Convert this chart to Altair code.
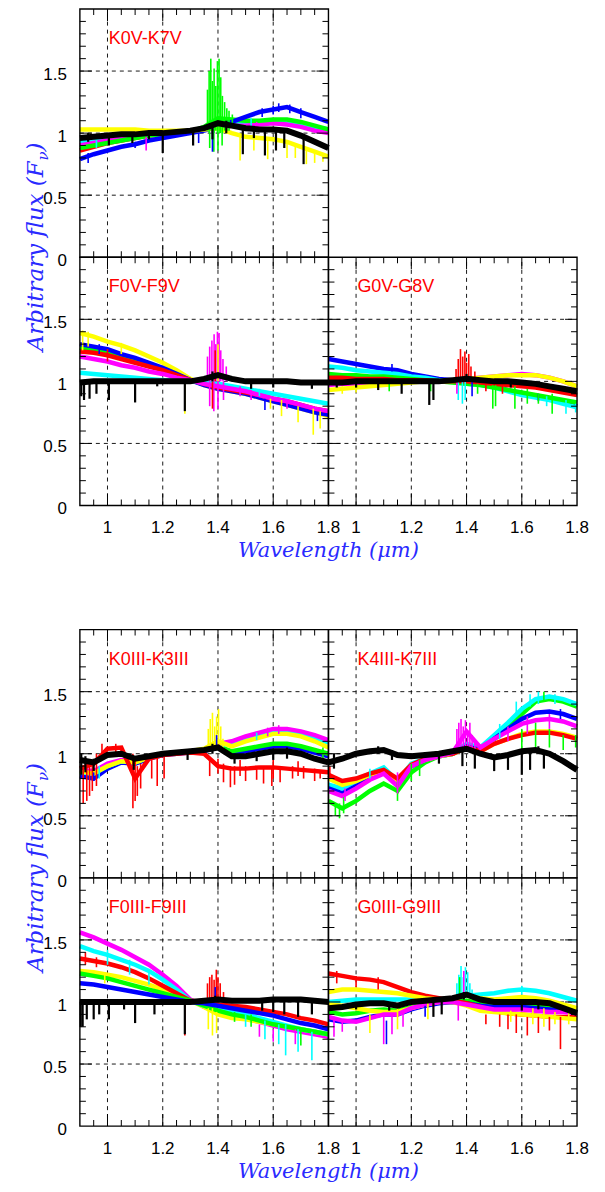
import altair as alt
import pandas as pd

# ---------------- data ----------------
WL = [0.90, 0.95, 1.00, 1.05, 1.10, 1.15, 1.20, 1.25, 1.30, 1.35,
      1.40, 1.45, 1.50, 1.55, 1.60, 1.65, 1.70, 1.75, 1.80]

PANEL_NAMES = ["K0V-K7V", "F0V-F9V", "G0V-G8V", "K0III-K3III",
               "K4III-K7III", "F0III-F9III", "G0III-G9III"]

# K0V-K7V
K0V_BLACK = [0.96, 0.97, 0.98, 0.99, 0.99, 1.00, 1.00, 1.01, 1.02, 1.04, 1.08, 1.06, 1.04, 1.03, 1.03, 1.02, 0.98, 0.93, 0.88]
K0V_RED = [0.86, 0.89, 0.92, 0.94, 0.96, 0.98, 0.99, 1.00, 1.01, 1.03, 1.05, 1.06, 1.07, 1.08, 1.09, 1.08, 1.06, 1.03, 1.01]
K0V_CYAN = [0.93, 0.95, 0.96, 0.98, 0.99, 1.00, 1.01, 1.01, 1.02, 1.03, 1.05, 1.07, 1.08, 1.09, 1.10, 1.09, 1.07, 1.05, 1.03]
K0V_MAGENTA = [0.90, 0.92, 0.94, 0.96, 0.97, 0.99, 1.00, 1.01, 1.02, 1.03, 1.05, 1.06, 1.06, 1.07, 1.08, 1.07, 1.05, 1.02, 1.00]
K0V_GREEN = [0.88, 0.90, 0.92, 0.94, 0.96, 0.98, 0.99, 1.00, 1.01, 1.05, 1.12, 1.11, 1.10, 1.10, 1.11, 1.11, 1.09, 1.06, 1.03]
K0V_BLUE = [0.79, 0.83, 0.86, 0.89, 0.91, 0.94, 0.96, 0.98, 1.00, 1.02, 1.05, 1.09, 1.13, 1.17, 1.19, 1.21, 1.17, 1.13, 1.09]
K0V_YELLOW = [1.03, 1.03, 1.03, 1.03, 1.03, 1.02, 1.02, 1.02, 1.02, 1.03, 1.04, 1.00, 0.97, 0.96, 0.95, 0.93, 0.89, 0.85, 0.81]
K0V_SPIKES = [
    ("g", 1.362, 1.02, 1.35), ("g", 1.368, 1.00, 1.50), ("g", 1.374, 1.02, 1.60), ("g", 1.380, 1.00, 1.42),
    ("g", 1.386, 1.00, 1.52), ("g", 1.392, 1.02, 1.38), ("g", 1.398, 1.00, 1.58), ("g", 1.404, 1.00, 1.60),
    ("g", 1.410, 1.00, 1.45), ("g", 1.416, 1.00, 1.30), ("g", 1.424, 1.02, 1.25), ("g", 1.432, 1.02, 1.20),
    ("g", 1.440, 1.02, 1.18), ("g", 1.452, 1.04, 1.15), ("g", 1.370, 0.88, 1.00), ("g", 1.385, 0.85, 1.00),
    ("g", 1.400, 0.86, 1.00), ("g", 1.415, 0.90, 1.00), ("b", 1.380, 0.85, 1.05), ("b", 1.100, 0.88, 0.93),
    ("b", 1.330, 0.92, 1.00), ("m", 1.140, 0.86, 0.97), ("y", 1.480, 0.78, 0.97), ("y", 1.580, 0.79, 0.95),
    ("y", 1.650, 0.80, 0.93), ("y", 1.720, 0.75, 0.88), ("y", 1.780, 0.77, 0.83), ("b", 1.620, 1.17, 1.24),
    ("b", 1.660, 1.16, 1.23), ("b", 1.560, 1.13, 1.20), ("b", 1.600, 1.15, 1.22), ("b", 1.700, 1.12, 1.20),
    ("c", 1.520, 1.05, 1.12), ("m", 1.540, 1.02, 1.09), ("b", 0.930, 0.76, 0.84), ("c", 0.960, 0.88, 0.96),
    ("y", 1.530, 0.86, 0.96), ("y", 1.680, 0.80, 0.92), ("y", 1.750, 0.76, 0.86),
    ("k", 1.005, 0.90, 0.99), ("k", 1.090, 0.92, 1.00), ("k", 1.200, 0.84, 1.00), ("k", 1.310, 0.90, 1.02),
    ("k", 1.380, 0.95, 1.05), ("k", 1.490, 0.83, 1.04), ("k", 1.570, 0.82, 1.03), ("k", 1.610, 0.86, 1.03),
    ("k", 1.640, 0.88, 1.02), ("k", 1.710, 0.75, 0.97), ("k", 0.930, 0.93, 1.00), ("k", 1.150, 0.95, 1.01),
    ("k", 1.430, 1.00, 1.10), ("k", 1.530, 0.96, 1.05),
]

# F0V-F9V
F0V_BLACK = [0.99, 1.00, 1.00, 1.00, 1.00, 1.00, 1.00, 1.00, 1.00, 1.02, 1.05, 1.02, 1.00, 1.00, 1.00, 1.00, 0.99, 0.99, 0.99]
F0V_YELLOW = [1.39, 1.36, 1.32, 1.29, 1.25, 1.20, 1.15, 1.09, 1.02, 0.97, 0.94, 0.92, 0.90, 0.87, 0.84, 0.81, 0.78, 0.75, 0.72]
F0V_GREEN = [1.27, 1.25, 1.23, 1.20, 1.17, 1.13, 1.10, 1.05, 1.01, 0.98, 0.95, 0.93, 0.91, 0.88, 0.85, 0.82, 0.79, 0.77, 0.74]
F0V_BLUE = [1.30, 1.28, 1.26, 1.22, 1.19, 1.15, 1.11, 1.06, 1.01, 0.97, 0.94, 0.92, 0.90, 0.87, 0.84, 0.81, 0.78, 0.75, 0.73]
F0V_RED = [1.24, 1.23, 1.21, 1.18, 1.15, 1.12, 1.09, 1.05, 1.01, 0.98, 0.95, 0.93, 0.91, 0.89, 0.86, 0.84, 0.81, 0.78, 0.76]
F0V_CYAN = [1.07, 1.06, 1.05, 1.04, 1.03, 1.02, 1.01, 1.01, 1.00, 0.99, 0.98, 0.96, 0.94, 0.92, 0.90, 0.88, 0.86, 0.84, 0.82]
F0V_MAGENTA = [1.20, 1.18, 1.16, 1.13, 1.11, 1.08, 1.06, 1.03, 1.01, 0.98, 0.96, 0.94, 0.92, 0.89, 0.86, 0.84, 0.81, 0.78, 0.76]
F0V_SPIKES = [
    ("m", 1.362, 1.00, 1.20), ("m", 1.370, 1.00, 1.28), ("m", 1.378, 1.00, 1.33), ("m", 1.386, 1.00, 1.38),
    ("m", 1.392, 1.00, 1.30), ("m", 1.398, 1.00, 1.40), ("m", 1.404, 1.00, 1.39), ("m", 1.410, 1.00, 1.25),
    ("m", 1.418, 1.00, 1.18), ("m", 1.430, 1.00, 1.12), ("r", 1.390, 1.00, 1.25), ("y", 1.400, 1.00, 1.30),
    ("m", 1.370, 0.80, 1.00), ("m", 1.385, 0.76, 1.00), ("m", 1.400, 0.78, 1.00), ("m", 1.420, 0.85, 1.00),
    ("r", 1.380, 0.78, 1.00), ("y", 1.280, 0.74, 0.99), ("y", 1.630, 0.72, 0.85), ("y", 1.690, 0.67, 0.80),
    ("y", 1.745, 0.57, 0.78), ("y", 1.770, 0.62, 0.76), ("y", 1.590, 0.78, 0.86), ("b", 1.570, 0.77, 0.86),
    ("b", 1.760, 0.68, 0.74), ("c", 1.200, 0.98, 1.03), ("y", 0.910, 1.25, 1.41), ("y", 0.930, 1.28, 1.40),
    ("m", 1.480, 0.88, 0.96), ("m", 1.520, 0.85, 0.93), ("m", 1.650, 0.78, 0.86), ("c", 1.550, 0.88, 0.94),
    ("r", 1.000, 1.16, 1.26), ("b", 0.970, 1.22, 1.30), ("y", 1.050, 1.22, 1.31),
    ("k", 0.905, 0.88, 1.00), ("k", 0.915, 0.85, 1.00), ("k", 0.935, 0.86, 1.00), ("k", 0.960, 0.90, 1.00),
    ("k", 1.005, 0.85, 1.00), ("k", 1.100, 0.83, 1.00), ("k", 1.280, 0.76, 1.00), ("k", 1.520, 0.94, 1.00),
    ("k", 1.600, 0.95, 1.00), ("k", 1.740, 0.94, 1.00), ("k", 1.180, 0.96, 1.00), ("k", 1.380, 1.00, 1.08),
]

# G0V-G8V
G0V_BLACK = [0.99, 0.99, 1.00, 1.00, 1.00, 1.00, 1.00, 1.00, 1.00, 1.01, 1.02, 1.01, 1.00, 1.00, 0.99, 0.98, 0.96, 0.94, 0.92]
G0V_BLUE = [1.18, 1.16, 1.14, 1.12, 1.10, 1.09, 1.06, 1.04, 1.02, 1.01, 1.00, 0.98, 0.96, 0.93, 0.90, 0.88, 0.86, 0.83, 0.80]
G0V_CYAN = [1.12, 1.11, 1.09, 1.08, 1.07, 1.06, 1.04, 1.03, 1.01, 1.00, 0.98, 0.97, 0.95, 0.92, 0.89, 0.87, 0.85, 0.82, 0.79]
G0V_GREEN = [1.06, 1.05, 1.05, 1.04, 1.04, 1.03, 1.02, 1.01, 1.00, 0.99, 0.98, 0.97, 0.95, 0.93, 0.91, 0.89, 0.87, 0.85, 0.83]
G0V_RED = [1.03, 1.03, 1.02, 1.02, 1.02, 1.01, 1.01, 1.01, 1.00, 1.00, 1.00, 0.99, 0.98, 0.97, 0.96, 0.95, 0.93, 0.91, 0.89]
G0V_MAGENTA = [0.97, 0.98, 0.98, 0.99, 0.99, 1.00, 1.00, 1.00, 1.00, 1.01, 1.02, 1.03, 1.04, 1.05, 1.06, 1.05, 1.03, 1.00, 0.96]
G0V_YELLOW = [0.93, 0.94, 0.95, 0.96, 0.97, 0.98, 0.99, 1.00, 1.00, 1.01, 1.02, 1.03, 1.04, 1.05, 1.05, 1.05, 1.03, 1.00, 0.96]
G0V_SPIKES = [
    ("r", 1.362, 1.02, 1.10), ("r", 1.370, 1.02, 1.18), ("r", 1.378, 1.02, 1.26), ("r", 1.386, 1.02, 1.20),
    ("r", 1.394, 1.02, 1.24), ("r", 1.400, 1.02, 1.15), ("r", 1.408, 1.02, 1.22), ("r", 1.416, 1.02, 1.12),
    ("r", 1.430, 1.02, 1.08), ("c", 1.370, 0.85, 1.00), ("c", 1.385, 0.82, 1.00), ("c", 1.395, 0.85, 1.00),
    ("m", 1.365, 0.90, 1.00), ("b", 1.420, 0.88, 1.00), ("g", 1.120, 0.92, 1.00), ("g", 1.495, 0.78, 0.97),
    ("g", 1.505, 0.80, 0.97), ("g", 1.575, 0.78, 0.96), ("g", 1.620, 0.82, 0.94), ("g", 1.710, 0.74, 0.90),
    ("g", 1.270, 0.92, 0.99), ("g", 1.440, 0.90, 0.98), ("c", 1.760, 0.74, 0.85), ("c", 1.795, 0.75, 0.82),
    ("r", 1.470, 0.92, 1.00), ("r", 1.530, 0.90, 0.98), ("y", 0.950, 0.90, 0.96), ("b", 1.130, 1.08, 1.14),
    ("b", 1.660, 0.84, 0.90), ("c", 1.690, 0.80, 0.88), ("g", 1.660, 0.82, 0.90), ("y", 1.000, 0.91, 0.96),
    ("k", 1.080, 0.93, 1.00), ("k", 1.165, 0.90, 1.00), ("k", 1.265, 0.81, 1.00), ("k", 1.280, 0.85, 1.00),
    ("k", 1.000, 0.95, 1.00), ("k", 0.930, 0.95, 1.00), ("k", 1.400, 1.00, 1.06), ("k", 1.560, 0.95, 1.01),
]

# K0III-K3III
K0III_BLACK = [0.95, 0.93, 0.99, 1.00, 0.96, 0.98, 1.00, 1.01, 1.02, 1.03, 1.05, 0.98, 0.98, 1.00, 1.02, 1.02, 1.00, 0.96, 0.93]
K0III_BLUE = [0.82, 0.80, 0.88, 0.93, 0.92, 0.96, 0.99, 1.00, 1.01, 1.02, 1.06, 1.00, 1.02, 1.04, 1.06, 1.06, 1.04, 1.01, 0.98]
K0III_GREEN = [0.86, 0.85, 0.90, 0.94, 0.93, 0.97, 1.00, 1.01, 1.02, 1.03, 1.06, 1.02, 1.04, 1.06, 1.08, 1.08, 1.06, 1.03, 1.00]
K0III_CYAN = [0.85, 0.84, 0.90, 0.94, 0.93, 0.97, 1.00, 1.01, 1.02, 1.03, 1.07, 1.08, 1.12, 1.15, 1.18, 1.18, 1.16, 1.13, 1.09]
K0III_MAGENTA = [0.87, 0.86, 0.92, 0.95, 0.94, 0.97, 1.00, 1.01, 1.02, 1.03, 1.08, 1.10, 1.14, 1.17, 1.20, 1.20, 1.18, 1.15, 1.11]
K0III_YELLOW = [0.86, 0.84, 0.90, 0.94, 0.93, 0.97, 1.00, 1.01, 1.02, 1.04, 1.10, 1.06, 1.10, 1.13, 1.16, 1.16, 1.14, 1.10, 1.05]
K0III_RED = [0.88, 0.92, 1.04, 1.05, 0.80, 0.96, 0.99, 1.00, 1.01, 1.00, 0.90, 0.88, 0.88, 0.89, 0.89, 0.88, 0.87, 0.86, 0.85]
K0III_SPIKES = [
    ("y", 1.365, 1.03, 1.20), ("y", 1.372, 1.03, 1.28), ("y", 1.380, 1.03, 1.33), ("y", 1.388, 1.03, 1.22),
    ("y", 1.395, 1.03, 1.30), ("y", 1.402, 1.03, 1.36), ("y", 1.410, 1.03, 1.22), ("y", 1.418, 1.03, 1.12),
    ("b", 1.395, 1.03, 1.15), ("r", 0.912, 0.60, 0.90), ("r", 0.925, 0.62, 0.92), ("r", 0.935, 0.66, 0.90),
    ("r", 0.945, 0.70, 0.95), ("r", 0.960, 0.74, 1.00), ("r", 1.092, 0.56, 1.00), ("r", 1.100, 0.62, 0.95),
    ("r", 1.108, 0.66, 0.90), ("r", 1.120, 0.72, 0.92), ("r", 1.160, 0.80, 0.96), ("r", 1.180, 0.74, 0.98),
    ("r", 1.205, 0.80, 1.00), ("r", 1.370, 0.82, 0.95), ("r", 1.420, 0.77, 0.92), ("r", 1.445, 0.73, 0.90),
    ("r", 1.460, 0.75, 0.90), ("r", 1.500, 0.78, 0.90), ("r", 1.540, 0.79, 0.90), ("r", 1.565, 0.76, 0.90),
    ("r", 1.595, 0.74, 0.90), ("r", 1.625, 0.77, 0.90), ("r", 1.670, 0.80, 0.90), ("r", 1.710, 0.80, 0.90),
    ("r", 1.750, 0.78, 0.88), ("r", 1.770, 0.80, 0.86), ("r", 0.980, 1.00, 1.08), ("r", 1.030, 1.00, 1.08),
    ("r", 1.480, 0.82, 0.95), ("r", 1.600, 0.80, 0.95), ("r", 1.690, 0.82, 0.94), ("r", 1.400, 0.84, 0.96),
    ("b", 0.950, 0.78, 0.85), ("c", 0.970, 0.80, 0.90), ("g", 1.780, 0.95, 1.05), ("m", 1.620, 1.16, 1.23),
    ("m", 1.580, 1.14, 1.21), ("c", 1.540, 1.11, 1.17),
    ("k", 0.905, 0.83, 1.00), ("k", 0.920, 0.85, 0.98), ("k", 0.950, 0.86, 0.96), ("k", 1.095, 0.87, 0.98),
    ("k", 1.290, 0.95, 1.03), ("k", 1.460, 0.92, 1.00), ("k", 1.600, 0.95, 1.03), ("k", 1.380, 1.00, 1.08),
    ("k", 1.650, 0.96, 1.05), ("k", 1.540, 0.94, 1.01),
]

# K4III-K7III
K4III_BLACK = [0.93, 0.96, 1.00, 1.02, 1.03, 0.99, 0.98, 0.99, 1.00, 1.02, 1.04, 1.00, 0.97, 0.99, 1.02, 1.03, 1.00, 0.94, 0.87]
K4III_GREEN = [0.62, 0.56, 0.62, 0.70, 0.76, 0.70, 0.85, 0.93, 0.98, 1.00, 1.05, 1.02, 1.12, 1.22, 1.32, 1.42, 1.44, 1.42, 1.38]
K4III_CYAN = [0.75, 0.72, 0.78, 0.84, 0.89, 0.78, 0.92, 0.96, 0.99, 1.01, 1.08, 1.05, 1.15, 1.25, 1.36, 1.44, 1.46, 1.44, 1.40]
K4III_BLUE = [0.72, 0.68, 0.74, 0.80, 0.85, 0.76, 0.90, 0.95, 0.98, 1.00, 1.06, 1.03, 1.12, 1.20, 1.28, 1.33, 1.34, 1.32, 1.28]
K4III_YELLOW = [0.80, 0.75, 0.78, 0.83, 0.86, 0.78, 0.91, 0.95, 0.98, 1.00, 1.05, 1.02, 1.08, 1.12, 1.16, 1.18, 1.18, 1.16, 1.13]
K4III_RED = [0.83, 0.78, 0.80, 0.84, 0.87, 0.80, 0.91, 0.96, 0.99, 1.00, 1.05, 1.02, 1.08, 1.12, 1.15, 1.17, 1.17, 1.15, 1.12]
K4III_MAGENTA = [0.70, 0.66, 0.72, 0.79, 0.84, 0.74, 0.90, 0.95, 0.98, 1.01, 1.18, 1.05, 1.12, 1.18, 1.24, 1.27, 1.28, 1.26, 1.22]
K4III_SPIKES = [
    ("m", 1.365, 1.02, 1.20), ("m", 1.372, 1.02, 1.25), ("m", 1.380, 1.02, 1.28), ("m", 1.388, 1.02, 1.22),
    ("m", 1.396, 1.02, 1.27), ("m", 1.404, 1.02, 1.18), ("m", 1.412, 1.02, 1.25), ("m", 1.420, 1.02, 1.15),
    ("m", 1.430, 1.02, 1.10), ("g", 0.925, 0.50, 0.60), ("g", 0.940, 0.48, 0.60), ("g", 0.955, 0.52, 0.65),
    ("g", 1.150, 0.62, 0.78), ("g", 1.200, 0.78, 0.92), ("g", 1.230, 0.82, 0.95), ("g", 1.600, 1.00, 1.20),
    ("g", 1.650, 1.02, 1.25), ("g", 1.700, 1.05, 1.20), ("g", 1.750, 1.03, 1.15), ("g", 1.795, 1.05, 1.15),
    ("c", 1.580, 1.30, 1.42), ("c", 1.630, 1.38, 1.48), ("c", 1.660, 1.40, 1.50), ("g", 1.680, 1.42, 1.50),
    ("c", 1.720, 1.40, 1.48), ("m", 1.150, 0.68, 0.85), ("r", 0.905, 0.80, 0.90), ("m", 1.550, 1.10, 1.22),
    ("m", 1.620, 1.16, 1.30), ("m", 1.700, 1.20, 1.32), ("b", 1.740, 1.28, 1.36), ("c", 1.520, 1.12, 1.24),
    ("m", 0.960, 0.62, 0.72), ("c", 1.050, 0.80, 0.88),
    ("k", 1.300, 0.92, 1.00), ("k", 1.385, 0.90, 1.04), ("k", 1.430, 0.88, 1.00), ("k", 1.500, 0.86, 0.98),
    ("k", 1.550, 0.87, 1.00), ("k", 1.600, 0.83, 1.02), ("k", 1.630, 0.87, 1.03), ("k", 1.680, 0.88, 1.00),
    ("k", 0.920, 0.88, 1.00), ("k", 1.130, 0.95, 1.03), ("k", 1.080, 1.00, 1.06), ("k", 1.660, 1.00, 1.06),
]

# F0III-F9III
F0III_BLACK = [1.00, 1.00, 1.00, 1.00, 1.00, 1.00, 1.00, 1.00, 1.00, 1.01, 1.02, 1.01, 1.01, 1.01, 1.02, 1.02, 1.02, 1.01, 1.00]
F0III_MAGENTA = [1.56, 1.52, 1.47, 1.42, 1.36, 1.30, 1.22, 1.13, 1.02, 0.96, 0.93, 0.90, 0.87, 0.84, 0.81, 0.78, 0.76, 0.74, 0.72]
F0III_YELLOW = [1.25, 1.24, 1.22, 1.20, 1.17, 1.14, 1.10, 1.05, 1.01, 0.96, 0.90, 0.87, 0.86, 0.84, 0.82, 0.80, 0.78, 0.76, 0.74]
F0III_CYAN = [1.45, 1.41, 1.38, 1.34, 1.30, 1.25, 1.18, 1.10, 1.01, 0.97, 0.95, 0.93, 0.90, 0.87, 0.84, 0.81, 0.78, 0.76, 0.74]
F0III_RED = [1.35, 1.33, 1.31, 1.28, 1.24, 1.19, 1.13, 1.07, 1.01, 1.00, 0.98, 0.97, 0.96, 0.94, 0.92, 0.90, 0.87, 0.85, 0.82]
F0III_GREEN = [1.23, 1.21, 1.19, 1.16, 1.13, 1.10, 1.07, 1.04, 1.01, 0.97, 0.93, 0.90, 0.88, 0.85, 0.82, 0.80, 0.78, 0.76, 0.74]
F0III_BLUE = [1.15, 1.14, 1.12, 1.10, 1.08, 1.06, 1.04, 1.02, 1.00, 0.99, 0.97, 0.95, 0.93, 0.91, 0.89, 0.86, 0.83, 0.81, 0.78]
F0III_SPIKES = [
    ("r", 1.362, 1.00, 1.15), ("r", 1.370, 1.00, 1.20), ("r", 1.378, 1.00, 1.22), ("r", 1.386, 1.00, 1.18),
    ("r", 1.394, 1.00, 1.26), ("r", 1.400, 1.00, 1.20), ("r", 1.408, 1.00, 1.15), ("r", 1.420, 1.00, 1.08),
    ("b", 1.390, 1.00, 1.12), ("y", 1.365, 0.78, 0.95), ("y", 1.380, 0.73, 0.95), ("y", 1.395, 0.75, 0.92),
    ("m", 1.550, 0.72, 0.82), ("m", 1.600, 0.68, 0.78), ("c", 1.570, 0.70, 0.85), ("c", 1.645, 0.57, 0.82),
    ("c", 1.690, 0.60, 0.78), ("c", 1.740, 0.53, 0.76), ("c", 1.620, 0.66, 0.82), ("g", 1.700, 0.65, 0.78),
    ("g", 1.520, 0.80, 0.90), ("r", 1.280, 0.73, 0.98), ("r", 0.920, 1.30, 1.40), ("r", 0.960, 1.28, 1.36),
    ("c", 1.000, 1.30, 1.42), ("c", 1.080, 1.22, 1.34), ("c", 1.150, 1.14, 1.26), ("y", 0.990, 1.15, 1.24),
    ("g", 1.460, 0.84, 0.92), ("c", 1.500, 0.80, 0.90), ("m", 1.680, 0.66, 0.78),
    ("k", 0.903, 0.80, 1.00), ("k", 0.910, 0.80, 1.00), ("k", 0.925, 0.86, 1.00), ("k", 0.950, 0.86, 1.00),
    ("k", 0.970, 0.90, 1.00), ("k", 1.005, 0.86, 1.00), ("k", 1.100, 0.83, 1.00), ("k", 1.170, 0.90, 1.00),
    ("k", 1.280, 0.74, 1.00), ("k", 1.560, 0.93, 1.02), ("k", 1.600, 0.92, 1.02), ("k", 1.640, 0.90, 1.02),
    ("k", 1.690, 0.88, 1.02), ("k", 1.740, 0.90, 1.00), ("k", 1.060, 0.94, 1.00), ("k", 1.390, 1.00, 1.05),
]

# G0III-G9III
G0III_BLACK = [0.95, 0.96, 0.98, 0.99, 0.99, 0.97, 1.00, 1.01, 1.02, 1.03, 1.06, 1.02, 1.00, 1.00, 1.00, 1.00, 0.99, 0.95, 0.91]
G0III_GREEN = [0.92, 0.90, 0.91, 0.93, 0.94, 0.93, 0.96, 0.98, 1.00, 1.00, 1.01, 0.99, 0.98, 0.98, 0.98, 0.97, 0.96, 0.95, 0.94]
G0III_BLUE = [0.86, 0.84, 0.85, 0.88, 0.90, 0.90, 0.94, 0.97, 0.99, 1.00, 0.99, 0.97, 0.96, 0.96, 0.96, 0.95, 0.94, 0.93, 0.92]
G0III_CYAN = [1.00, 1.01, 1.02, 1.02, 1.02, 1.02, 1.02, 1.02, 1.02, 1.03, 1.05, 1.06, 1.07, 1.09, 1.10, 1.09, 1.07, 1.04, 1.01]
G0III_RED = [1.23, 1.21, 1.19, 1.18, 1.16, 1.12, 1.08, 1.05, 1.03, 1.01, 0.99, 0.96, 0.93, 0.91, 0.90, 0.89, 0.88, 0.88, 0.88]
G0III_MAGENTA = [0.88, 0.85, 0.84, 0.87, 0.90, 0.90, 0.95, 0.98, 1.00, 1.00, 0.98, 0.96, 0.94, 0.94, 0.94, 0.93, 0.92, 0.92, 0.91]
G0III_YELLOW = [1.08, 1.10, 1.10, 1.09, 1.08, 1.07, 1.05, 1.03, 1.02, 1.03, 1.05, 1.03, 1.02, 1.03, 1.04, 1.03, 1.01, 0.98, 0.95]
G0III_YELLOW_LOW = [0.98, 0.97, 0.95, 0.93, 0.92, 0.92, 0.95, 0.98, 1.00, 1.00, 0.97, 0.93, 0.92, 0.91, 0.90, 0.89, 0.88, 0.87, 0.86]
G0III_SPIKES = [
    ("c", 1.365, 1.03, 1.15), ("c", 1.372, 1.03, 1.22), ("c", 1.380, 1.03, 1.29), ("c", 1.388, 1.03, 1.20),
    ("c", 1.396, 1.03, 1.28), ("c", 1.404, 1.03, 1.24), ("c", 1.412, 1.03, 1.15), ("c", 1.420, 1.03, 1.10),
    ("m", 1.390, 1.03, 1.25), ("g", 1.375, 1.03, 1.20), ("r", 1.520, 0.80, 0.90), ("r", 1.580, 0.75, 0.90),
    ("r", 1.620, 0.73, 0.88), ("r", 1.660, 0.75, 0.88), ("r", 1.700, 0.77, 0.88), ("r", 1.740, 0.62, 0.88),
    ("r", 1.470, 0.82, 0.90), ("r", 1.550, 0.78, 0.90), ("m", 0.920, 0.72, 0.88), ("m", 0.950, 0.76, 0.86),
    ("m", 1.100, 0.66, 0.90), ("m", 1.130, 0.74, 0.90), ("m", 1.170, 0.80, 0.92), ("m", 1.370, 0.85, 0.98),
    ("b", 1.110, 0.66, 0.85), ("b", 1.250, 0.88, 0.97), ("y", 1.050, 0.75, 0.90), ("y", 1.150, 0.78, 0.95),
    ("y", 1.260, 0.86, 1.00), ("y", 1.640, 0.82, 0.95), ("y", 1.680, 0.80, 0.95), ("y", 1.770, 0.82, 0.95),
    ("r", 0.930, 1.15, 1.25), ("r", 1.000, 1.12, 1.21), ("r", 1.080, 1.10, 1.20), ("c", 1.600, 1.06, 1.13),
    ("y", 1.560, 0.84, 0.93), ("y", 1.720, 0.82, 0.92),
    ("k", 1.280, 0.88, 1.02), ("k", 1.310, 0.90, 1.02), ("k", 1.120, 0.93, 1.00), ("k", 1.600, 0.93, 1.00),
    ("k", 1.390, 1.02, 1.08), ("k", 1.660, 0.94, 1.01), ("k", 1.000, 0.94, 1.00),
]

# series per panel, in drawing order
PANEL_SERIES = {
    "K0V-K7V": [("r", K0V_RED), ("c", K0V_CYAN), ("m", K0V_MAGENTA), ("g", K0V_GREEN), ("b", K0V_BLUE), ("y", K0V_YELLOW)],
    "F0V-F9V": [("y", F0V_YELLOW), ("g", F0V_GREEN), ("b", F0V_BLUE), ("r", F0V_RED), ("c", F0V_CYAN), ("m", F0V_MAGENTA)],
    "G0V-G8V": [("b", G0V_BLUE), ("c", G0V_CYAN), ("g", G0V_GREEN), ("r", G0V_RED), ("m", G0V_MAGENTA), ("y", G0V_YELLOW)],
    "K0III-K3III": [("b", K0III_BLUE), ("g", K0III_GREEN), ("c", K0III_CYAN), ("m", K0III_MAGENTA), ("y", K0III_YELLOW), ("r", K0III_RED)],
    "K4III-K7III": [("g", K4III_GREEN), ("c", K4III_CYAN), ("b", K4III_BLUE), ("y", K4III_YELLOW), ("r", K4III_RED), ("m", K4III_MAGENTA)],
    "F0III-F9III": [("m", F0III_MAGENTA), ("y", F0III_YELLOW), ("c", F0III_CYAN), ("r", F0III_RED), ("g", F0III_GREEN), ("b", F0III_BLUE)],
    "G0III-G9III": [("g", G0III_GREEN), ("b", G0III_BLUE), ("c", G0III_CYAN), ("r", G0III_RED), ("y", G0III_YELLOW_LOW), ("m", G0III_MAGENTA), ("y", G0III_YELLOW)],
}
PANEL_BLACK = {"K0V-K7V": K0V_BLACK, "F0V-F9V": F0V_BLACK, "G0V-G8V": G0V_BLACK, "K0III-K3III": K0III_BLACK,
               "K4III-K7III": K4III_BLACK, "F0III-F9III": F0III_BLACK, "G0III-G9III": G0III_BLACK}
PANEL_SPIKES = {"K0V-K7V": K0V_SPIKES, "F0V-F9V": F0V_SPIKES, "G0V-G8V": G0V_SPIKES, "K0III-K3III": K0III_SPIKES,
                "K4III-K7III": K4III_SPIKES, "F0III-F9III": F0III_SPIKES, "G0III-G9III": G0III_SPIKES}

X_MAJOR = [1.0, 1.2, 1.4, 1.6]
X_MINOR = [0.95, 1.05, 1.1, 1.15, 1.25, 1.3, 1.35, 1.45, 1.5, 1.55, 1.65, 1.7, 1.75]
X_LABEL_VALUES = [1.0, 1.2, 1.4, 1.6, 1.8]
X_LABELS = ["1", "1.2", "1.4", "1.6", "1.8"]
Y_MAJOR = [0.5, 1.0, 1.5]
Y_MINOR = [0.1, 0.2, 0.3, 0.4, 0.6, 0.7, 0.8, 0.9, 1.1, 1.2, 1.3, 1.4, 1.6, 1.7, 1.8, 1.9]
Y_LABEL_VALUES = [0.0, 0.5, 1.0, 1.5]
Y_LABELS = ["0", "0.5", "1", "1.5"]

# ---------------- layout / style ----------------
COLORS = {"b": "#0000ff", "g": "#00ff00", "y": "#ffff00", "c": "#00ffff",
          "m": "#ff00ff", "r": "#ff0000", "k": "#000000"}
PANEL_COL = {"K0V-K7V": 0, "F0V-F9V": 0, "G0V-G8V": 1, "K0III-K3III": 0,
             "K4III-K7III": 1, "F0III-F9III": 0, "G0III-G9III": 1}
PANEL_YOFF = {"K0V-K7V": 7, "F0V-F9V": 5, "G0V-G8V": 5, "K0III-K3III": 2,
              "K4III-K7III": 2, "F0III-F9III": 0, "G0III-G9III": 0}
BOTTOM_PANELS = ["F0V-F9V", "G0V-G8V", "F0III-F9III", "G0III-G9III"]
XW = 0.9   # x span of one panel
YH = 2.0   # y span of one panel
W, H = 498, 1119
TITLE_BLUE = "#2a2aff"
SANS = "Liberation Sans"
SERIF = "DejaVu Serif"

XS = alt.Scale(domain=[0.9, 2.7], nice=False, zero=False)
YS = alt.Scale(domain=[0.0, 9.0], nice=False, zero=False)


def X(f="x"):
    return alt.X(f"{f}:Q", scale=XS, axis=None)


def Y(f="y"):
    return alt.Y(f"{f}:Q", scale=YS, axis=None)


def xo(p):
    return XW * PANEL_COL[p]


# ---------------- tables ----------------
line_rows, black_rows, spike_rows, kspike_rows = [], [], [], []
for pi, p in enumerate(PANEL_NAMES):
    for si, (c, vals) in enumerate(PANEL_SERIES[p]):
        for w, v in zip(WL, vals):
            line_rows.append({"sid": f"{pi}_{si:02d}", "color": COLORS[c], "x": w + xo(p), "y": v + PANEL_YOFF[p]})
    for w, v in zip(WL, PANEL_BLACK[p]):
        black_rows.append({"sid": f"{pi}", "x": w + xo(p), "y": v + PANEL_YOFF[p]})
    for c, w, lo, hi in PANEL_SPIKES[p]:
        row = {"color": COLORS[c], "x": w + xo(p), "y": lo + PANEL_YOFF[p], "y2": hi + PANEL_YOFF[p]}
        (kspike_rows if c == "k" else spike_rows).append(row)
lines = pd.DataFrame(line_rows)
blacks = pd.DataFrame(black_rows)
spikes = pd.DataFrame(spike_rows)
kspikes = pd.DataFrame(kspike_rows)

frames = pd.DataFrame([{"x": 0.9 + xo(p), "x2": 1.8 + xo(p), "y": PANEL_YOFF[p], "y2": PANEL_YOFF[p] + YH}
                       for p in PANEL_NAMES])

vgrid = pd.DataFrame([{"x": g + xo(p), "y": PANEL_YOFF[p], "y2": PANEL_YOFF[p] + YH}
                      for p in PANEL_NAMES for g in X_MAJOR])
hgrid = pd.DataFrame([{"y": g + PANEL_YOFF[p], "x": 0.9 + xo(p), "x2": 1.8 + xo(p)}
                      for p in PANEL_NAMES for g in Y_MAJOR])


def xticks(vals, edge):
    return pd.DataFrame([{"x": v + xo(p), "y": PANEL_YOFF[p] + (YH if edge == "top" else 0)}
                         for p in PANEL_NAMES for v in vals])


def yticks(vals, edge):
    return pd.DataFrame([{"y": v + PANEL_YOFF[p], "x": xo(p) + (1.8 if edge == "right" else 0.9)}
                         for p in PANEL_NAMES for v in vals])


ylab = pd.DataFrame([{"x": 0.9, "y": v + PANEL_YOFF[p], "t": t}
                     for p in PANEL_NAMES if PANEL_COL[p] == 0 for v, t in zip(Y_LABEL_VALUES, Y_LABELS)])
xlab = pd.DataFrame([{"x": v + xo(p), "y": PANEL_YOFF[p], "t": t}
                     for p in BOTTOM_PANELS for v, t in zip(X_LABEL_VALUES, X_LABELS)])
names = pd.DataFrame([{"x": 0.9 + xo(p), "y": PANEL_YOFF[p] + YH, "t": p} for p in PANEL_NAMES])
xtitle = pd.DataFrame([{"x": 1.8, "y": 5.0}, {"x": 1.8, "y": 0.0}])
ytitle = pd.DataFrame([{"x": 0.9, "y": 7.0}, {"x": 0.9, "y": 2.0}])

# ---------------- layers ----------------
layers = []
layers.append(alt.Chart(vgrid).mark_rule(color="black", strokeWidth=0.9, strokeDash=[4, 4])
              .encode(x=X(), y=Y(), y2="y2:Q"))
layers.append(alt.Chart(hgrid).mark_rule(color="black", strokeWidth=0.9, strokeDash=[4, 4])
              .encode(y=Y(), x=X(), x2="x2:Q"))
layers.append(alt.Chart(lines).mark_line(strokeWidth=4.5)
              .encode(x=X(), y=Y(), detail="sid:N", color=alt.Color("color:N", scale=None)))
layers.append(alt.Chart(spikes).mark_rule(strokeWidth=1.6)
              .encode(x=X(), y=Y(), y2="y2:Q", color=alt.Color("color:N", scale=None)))
layers.append(alt.Chart(blacks).mark_line(strokeWidth=6, color="black")
              .encode(x=X(), y=Y(), detail="sid:N"))
layers.append(alt.Chart(kspikes).mark_rule(strokeWidth=2.2, color="black")
              .encode(x=X(), y=Y(), y2="y2:Q"))
layers.append(alt.Chart(frames).mark_rect(filled=False, stroke="black", strokeWidth=1.4)
              .encode(x=X(), x2="x2:Q", y=Y(), y2="y2:Q"))

for vals, L in ((X_MAJOR, 12), (X_MINOR, 6)):
    for edge, off in (("bottom", -L / 2), ("top", L / 2)):
        layers.append(alt.Chart(xticks(vals, edge)).mark_tick(orient="vertical", size=L, thickness=1,
                                                              yOffset=off, color="black", opacity=1)
                      .encode(x=X(), y=Y()))
for vals, L in ((Y_MAJOR, 12), (Y_MINOR, 6)):
    for edge, off in (("left", L / 2), ("right", -L / 2)):
        layers.append(alt.Chart(yticks(vals, edge)).mark_tick(orient="horizontal", size=L, thickness=1,
                                                              xOffset=off, color="black", opacity=1)
                      .encode(x=X(), y=Y()))

layers.append(alt.Chart(ylab).mark_text(align="right", baseline="alphabetic", dx=-13, dy=9,
                                        font=SANS, fontSize=17, color="black")
              .encode(x=X(), y=Y(), text="t:N"))
layers.append(alt.Chart(xlab).mark_text(align="center", baseline="alphabetic", dy=28,
                                        font=SANS, fontSize=17, color="black")
              .encode(x=X(), y=Y(), text="t:N"))
layers.append(alt.Chart(names).mark_text(align="left", baseline="alphabetic", dx=29, dy=35,
                                         font=SANS, fontSize=18, color="#ff0000")
              .encode(x=X(), y=Y(), text="t:N"))
layers.append(alt.Chart(xtitle).mark_text(align="center", baseline="alphabetic", dy=52,
                                          font=SERIF, fontStyle="italic", fontSize=21, color=TITLE_BLUE)
              .encode(x=X(), y=Y(), text=alt.value("Wavelength (μm)")))
D = 96
layers.append(alt.Chart(ytitle).mark_text(angle=270, align="right", baseline="alphabetic", dx=D, dy=-37,
                                          font=SERIF, fontStyle="italic", fontSize=23, color=TITLE_BLUE)
              .encode(x=X(), y=Y(), text=alt.value("Arbitrary flux (F")))
layers.append(alt.Chart(ytitle).mark_text(angle=270, align="left", baseline="alphabetic", dx=D + 1, dy=-32,
                                          font=SERIF, fontStyle="italic", fontSize=15, color=TITLE_BLUE)
              .encode(x=X(), y=Y(), text=alt.value("ν")))
layers.append(alt.Chart(ytitle).mark_text(angle=270, align="left", baseline="alphabetic", dx=D + 10, dy=-37,
                                          font=SERIF, fontStyle="italic", fontSize=23, color=TITLE_BLUE)
              .encode(x=X(), y=Y(), text=alt.value(")")))

chart = alt.layer(*layers).properties(
    width=W, height=H,
    padding={"left": 72, "right": 20, "top": 0, "bottom": 57},
    autosize=alt.AutoSizeParams(type="none"),
).configure_view(stroke=None)

chart.save("out.html", embed_options={"renderer": "svg", "actions": False})
